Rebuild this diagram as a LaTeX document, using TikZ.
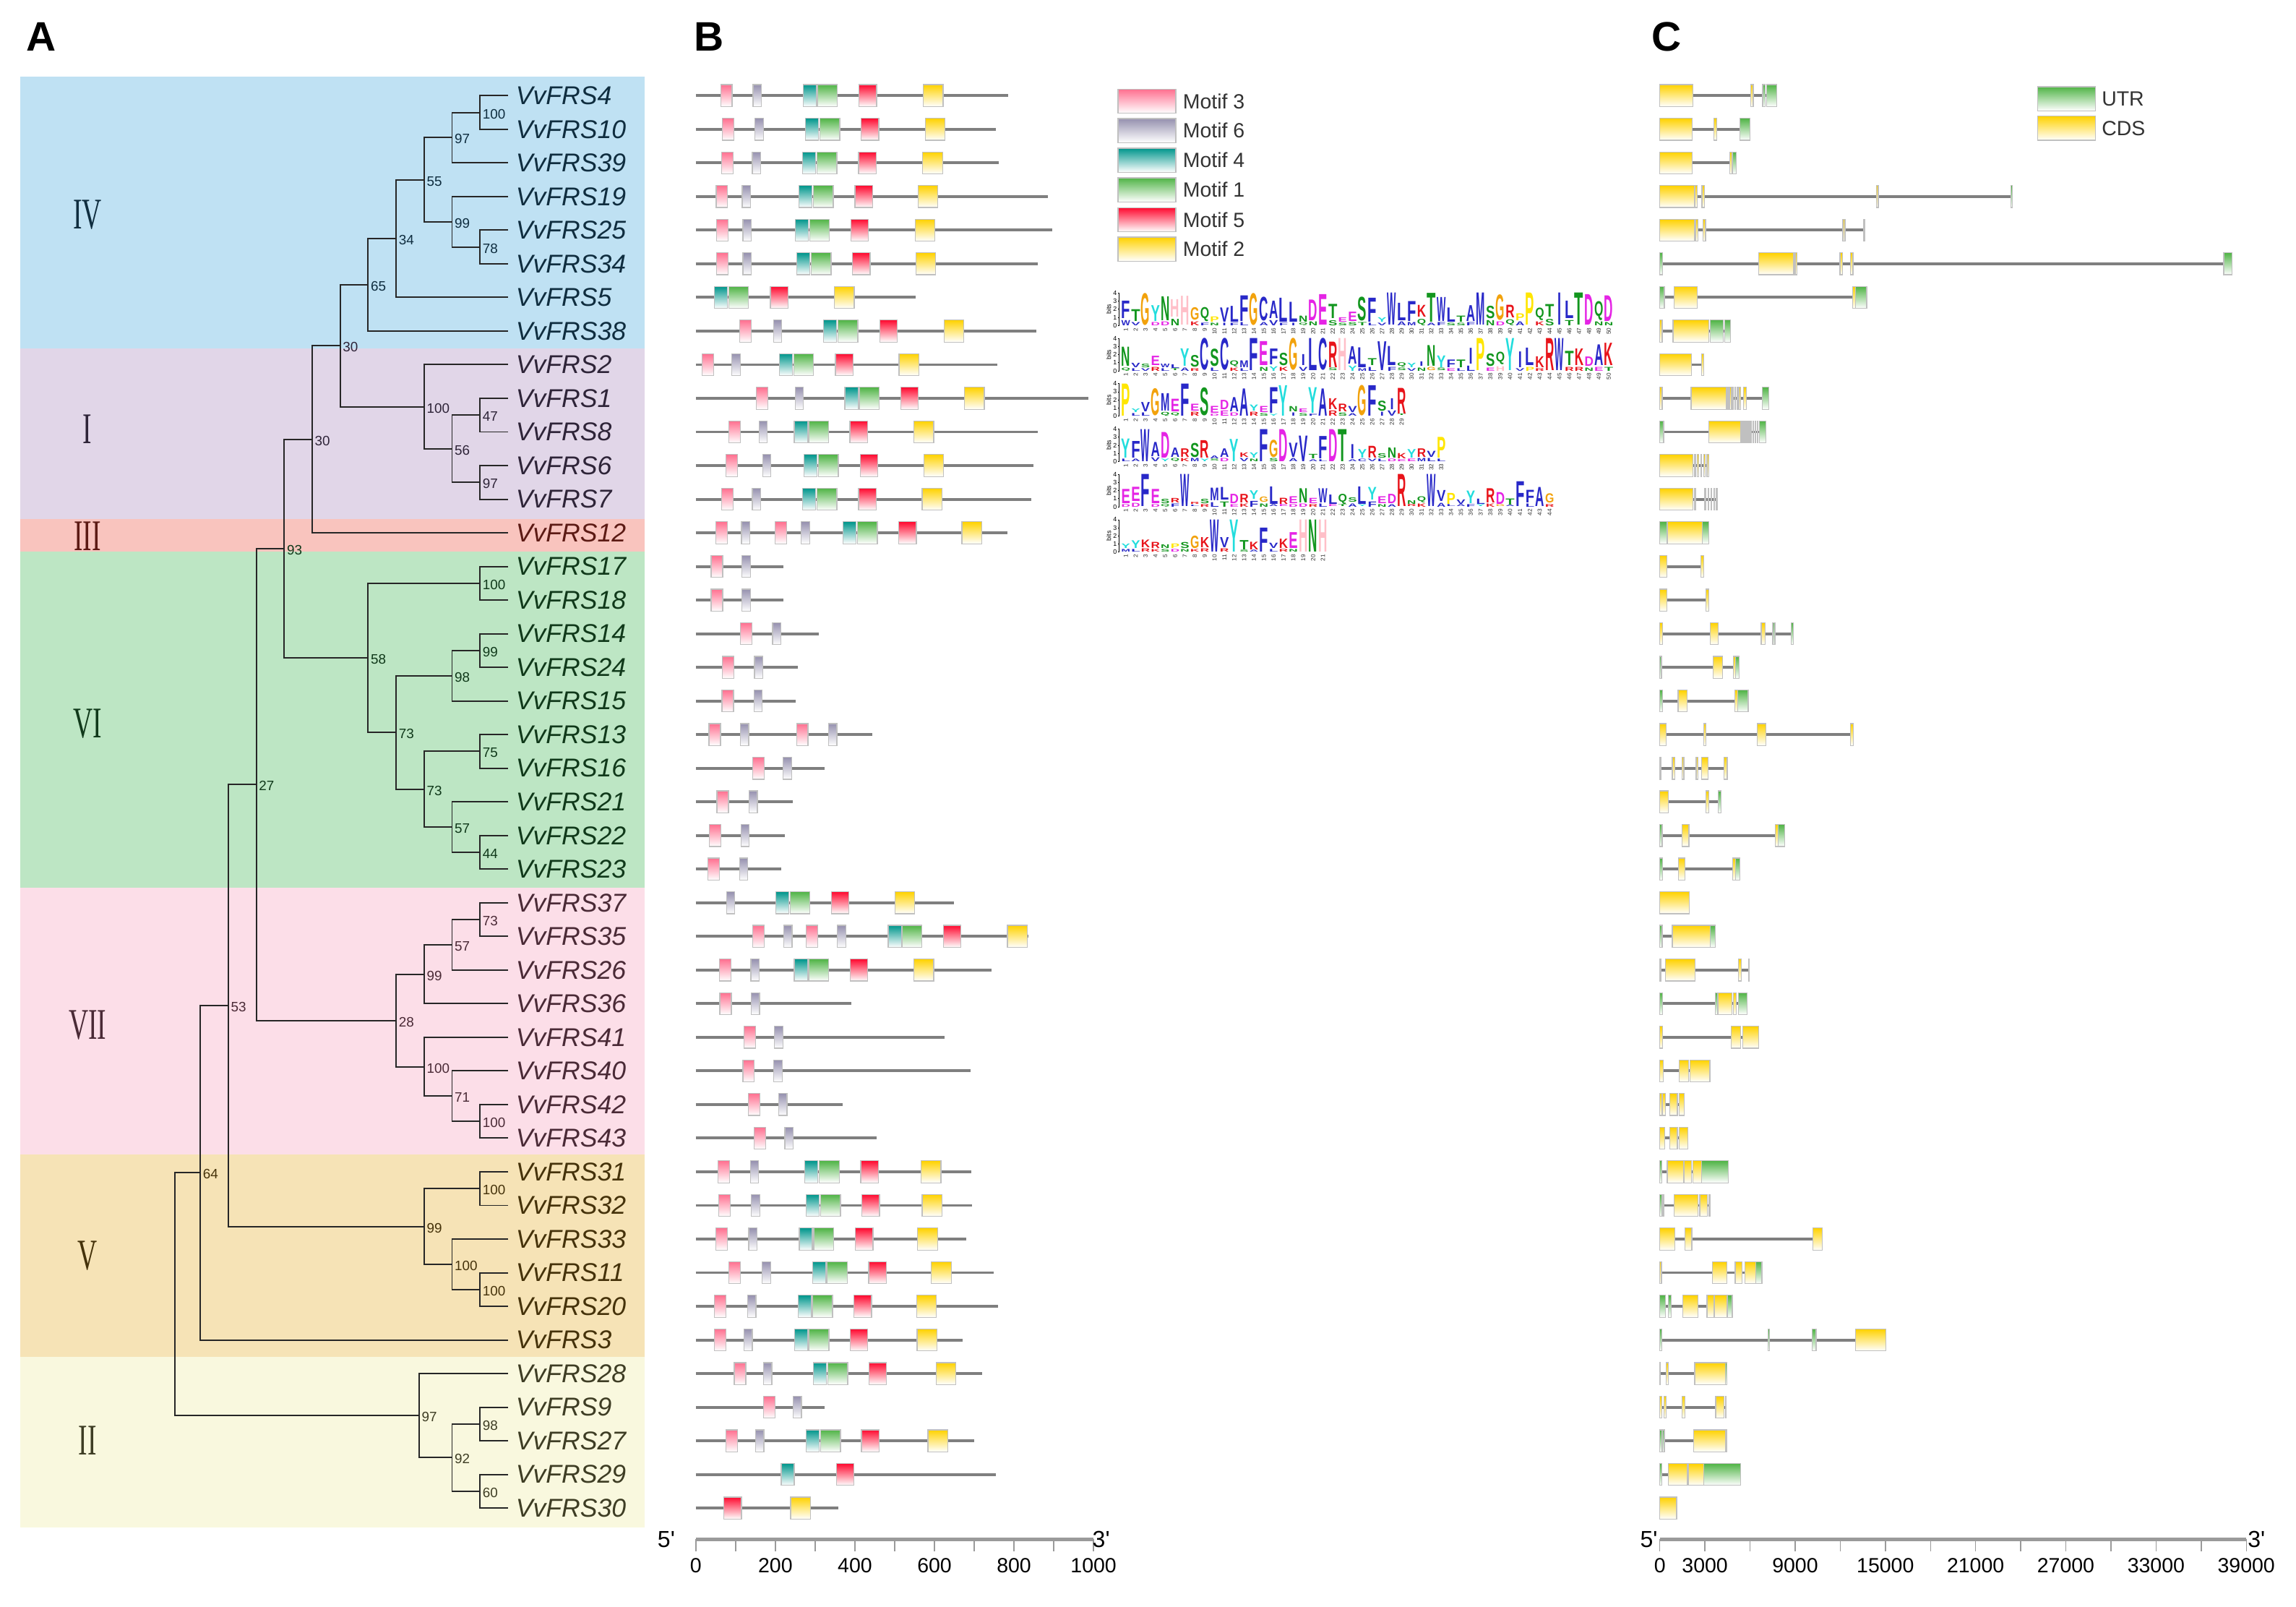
\documentclass[tikz,border=0pt]{standalone}
\usepackage{fontspec}
\setmainfont{Liberation Sans}
\newfontfamily\romanf{Liberation Serif}
\usepackage{graphicx}
\pgfmathdeclarefunction{ry}{1}{\pgfmathparse{65.3+(#1-1)*22.96}}
% band colours
\definecolor{bgIV}{HTML}{BFE1F3}
\definecolor{bgI}{HTML}{E1D6E8}
\definecolor{bgIII}{HTML}{F9C4BE}
\definecolor{bgVI}{HTML}{BDE6C4}
\definecolor{bgVII}{HTML}{FCDEE8}
\definecolor{bgV}{HTML}{F6E3B6}
\definecolor{bgII}{HTML}{F9F8DE}
% clade text colours
\definecolor{tIV}{HTML}{0F2D3F}
\definecolor{tI}{HTML}{2E2438}
\definecolor{tIII}{HTML}{5C1A14}
\definecolor{tVI}{HTML}{10391A}
\definecolor{tVII}{HTML}{4A2A36}
\definecolor{tV}{HTML}{45320A}
\definecolor{tII}{HTML}{3E3D24}
\definecolor{treeline}{HTML}{262626}
% motif colours
\definecolor{cP}{HTML}{FF7090}
\definecolor{cG}{HTML}{9691AF}
\definecolor{cT}{HTML}{00968C}
\definecolor{cN}{HTML}{50B446}
\definecolor{cR}{HTML}{FF0A30}
\definecolor{cY}{HTML}{FFD200}
\colorlet{cC}{cY}
\colorlet{cU}{cN}
\definecolor{boxline}{HTML}{C0C0C0}
\definecolor{lineg}{HTML}{7F7F7F}
\definecolor{axisg}{HTML}{9A9A9A}
\definecolor{legtxt}{HTML}{333333}
% amino-acid colours
\definecolor{aablue}{HTML}{2828C8}
\definecolor{aagreen}{HTML}{12961E}
\definecolor{aamag}{HTML}{E524E5}
\definecolor{aared}{HTML}{E8131A}
\colorlet{aaA}{aablue}\colorlet{aaC}{aablue}\colorlet{aaF}{aablue}\colorlet{aaI}{aablue}
\colorlet{aaL}{aablue}\colorlet{aaV}{aablue}\colorlet{aaW}{aablue}\colorlet{aaM}{aablue}
\colorlet{aaN}{aagreen}\colorlet{aaQ}{aagreen}\colorlet{aaS}{aagreen}\colorlet{aaT}{aagreen}
\colorlet{aaD}{aamag}\colorlet{aaE}{aamag}
\colorlet{aaK}{aared}\colorlet{aaR}{aared}
\definecolor{aaH}{HTML}{FFBFC8}
\definecolor{aaG}{HTML}{F2A20C}
\definecolor{aaP}{HTML}{FFE600}
\definecolor{aaY}{HTML}{22DDDD}
% motif widths (aa)
\def\wP{29}\def\wG{21}\def\wT{33}\def\wN{50}\def\wR{44}\def\wY{50}
\tikzset{
 tree/.style={draw=treeline, line width=0.55pt},
 gl/.style={anchor=west, inner xsep=0.1cm, inner ysep=0pt, font=\fontsize{10}{12}\selectfont\itshape},
 bs/.style={anchor=west, inner sep=0pt, xshift=0.03cm, yshift=-0.02cm, font=\fontsize{5.3}{6}\selectfont},
 romanlab/.style={inner sep=0pt, font=\romanf\fontsize{17}{17}\selectfont},
 box/.style={draw=boxline, line width=0.35pt, bottom color=white},
 pline/.style={draw=lineg, line width=1.1pt},
 axisl/.style={draw=axisg, line width=1.2pt},
 tickl/.style={draw=axisg, line width=0.4pt},
 ticklab/.style={font=\fontsize{8}{9}\selectfont, inner sep=0pt},
 endlab/.style={font=\fontsize{9}{10}\selectfont, inner sep=0pt},
 legtext/.style={anchor=west, inner sep=0pt, font=\fontsize{8}{9}\selectfont, text=legtxt},
 panel/.style={font=\fontsize{16}{18}\selectfont\bfseries, inner sep=0pt},
 lt/.style={inner sep=0pt, outer sep=0pt, anchor=south, font=\bfseries},
 numt/.style={rotate=90, anchor=east, inner sep=0pt, font=\fontsize{2.3}{2.5}\selectfont, text=black!80},
 tinyt/.style={inner sep=0pt, font=\fontsize{2.5}{3}\selectfont},
 logoaxis/.style={draw=black, line width=0.2pt},
}
% protein row: row, length, list of type/start
\newcommand\protrow[3]{%
 \pgfmathsetmacro\yy{ry(#1)}%
 \draw[pline] (475.2,\yy) -- ({475.2+#2*0.2716},\yy);
 \foreach \mt/\ms in {#3} {\shade[box, top color=c\mt] ({475.2+\ms*0.2716},\yy-7.5) rectangle ({475.2+(\ms+\csname w\mt\endcsname)*0.2716},\yy+7.5);}
}
% gene row: row, end, list of type/x1/x2
\newcommand\generow[3]{%
 \pgfmathsetmacro\yy{ry(#1)}%
 \draw[pline] (1133.5,\yy) -- (#2,\yy);
 \foreach \mt/\xa/\xb in {#3} {\shade[box, top color=c\mt] (\xa,\yy-7.5) rectangle (\xb,\yy+7.5);}
}
% sequence logo: name, baseline y, list top/h/bottom/h  (5.55 px per bit)
\newcommand\drawlogo[3]{%
 \draw[logoaxis] (764.3,#2) -- (764.3,#2-22.2);
 \foreach \k in {0,...,4} {\draw[logoaxis] (763.3,#2-\k*5.55) -- (764.3,#2-\k*5.55);
   \node[tinyt, anchor=east] (#1-ax\k) at (763,#2-\k*5.55) {\k};}
 \node[tinyt, rotate=90] (#1-bits) at (757.2,#2-11.1) {bits};
 \foreach \LA/\HA/\LB/\HB [count=\ii] in {#3} {%
   \pgfmathsetmacro\xc{765.5+(\ii-0.5)*6.73}%
   \pgfmathsetmacro\hacm{max(\HA*5.55-0.3,1.0)*0.02}%
   \pgfmathsetmacro\hbcm{max(\HB*5.55*0.8,1.0)*0.02}%
   \pgfmathsetmacro\ybase{#2-\HB*5.55-0.2}%
   \edef\wa{\if I\LA 0.05cm\else 0.122cm\fi}%
   \edef\wb{\if I\LB 0.05cm\else 0.122cm\fi}%
   \ifdim\HB pt>0pt \node[lt, text=aa\LB] (#1-\ii-b) at (\xc,#2) {\resizebox*{\wb}{\hbcm cm}{\LB}};\fi
   \node[lt, text=aa\LA] (#1-\ii-a) at (\xc,\ybase) {\resizebox*{\wa}{\hacm cm}{\LA}};
   \node[numt] (#1-\ii-n) at (\xc,#2+1.3) {\ii};
 }
}
\begin{document}
\begin{tikzpicture}[x=0.02cm,y=-0.02cm]
\useasboundingbox (0,0) rectangle (1568,1097);
\fill[white] (0,0) rectangle (1568,1097);
% ---------------- Panel A ----------------
\fill[bgIV] (14,52.3) rectangle (440,238);
\fill[bgI] (14,238) rectangle (440,354.2);
\fill[bgIII] (14,354.2) rectangle (440,376.7);
\fill[bgVI] (14,376.7) rectangle (440,606);
\fill[bgVII] (14,606) rectangle (440,788.4);
\fill[bgV] (14,788.4) rectangle (440,926.4);
\fill[bgII] (14,926.4) rectangle (440,1043.1);
\node[panel] (pA) at (28,25) {A};
\node[panel] (pB) at (484,25) {B};
\node[panel] (pC) at (1138,25) {C};
\node[romanlab, text=tIV] (rIV) at (59.8,146.6) {\scalebox{0.62}[1]{IV}};
\node[romanlab, text=tI] (rI) at (59.8,293.2) {\scalebox{0.62}[1]{I}};
\node[romanlab, text=tIII] (rIII) at (59.8,366) {\scalebox{0.62}[1]{III}};
\node[romanlab, text=tVI] (rVI) at (59.8,494) {\scalebox{0.62}[1]{VI}};
\node[romanlab, text=tVII] (rVII) at (59.8,700) {\scalebox{0.62}[1]{VII}};
\node[romanlab, text=tV] (rV) at (59.8,857.3) {\scalebox{0.62}[1]{V}};
\node[romanlab, text=tII] (rII) at (59.8,983.7) {\scalebox{0.62}[1]{II}};
\foreach \n/\r/\c in {4/1/IV,10/2/IV,39/3/IV,19/4/IV,25/5/IV,34/6/IV,5/7/IV,38/8/IV,2/9/I,1/10/I,8/11/I,6/12/I,7/13/I,12/14/III,17/15/VI,18/16/VI,14/17/VI,24/18/VI,15/19/VI,13/20/VI,16/21/VI,21/22/VI,22/23/VI,23/24/VI,37/25/VII,35/26/VII,26/27/VII,36/28/VII,41/29/VII,40/30/VII,42/31/VII,43/32/VII,31/33/V,32/34/V,33/35/V,11/36/V,20/37/V,3/38/V,28/39/II,9/40/II,27/41/II,29/42/II,30/43/II}
  \node[gl, text=t\c] (g\n) at (347,{ry(\r)}) {VvFRS\n};
\coordinate (Na) at (327.8,{ry(1.5)});
\coordinate (Nb) at (308.7,{ry(2.25)});
\coordinate (Nc) at (327.8,{ry(5.5)});
\coordinate (Nd) at (308.7,{ry(4.75)});
\coordinate (Ne) at (289.6,{ry(3.5)});
\coordinate (Nf) at (270.5,{ry(5.25)});
\coordinate (Ng) at (251.4,{ry(6.625)});
\coordinate (Nh) at (327.8,{ry(10.5)});
\coordinate (Ni) at (327.8,{ry(12.5)});
\coordinate (Nj) at (308.7,{ry(11.5)});
\coordinate (Nk) at (289.6,{ry(10.25)});
\coordinate (Nl) at (232.3,{ry(8.4375)});
\coordinate (Nm) at (213.2,{ry(11.21875)});
\coordinate (Nn) at (327.8,{ry(15.5)});
\coordinate (No) at (327.8,{ry(17.5)});
\coordinate (Np) at (308.7,{ry(18.25)});
\coordinate (Nq) at (327.8,{ry(20.5)});
\coordinate (Nr) at (327.8,{ry(23.5)});
\coordinate (Ns) at (308.7,{ry(22.75)});
\coordinate (Nt) at (289.6,{ry(21.625)});
\coordinate (Nu) at (270.5,{ry(19.9375)});
\coordinate (Nv) at (251.4,{ry(17.71875)});
\coordinate (Nw) at (194.1,{ry(14.46875)});
\coordinate (Nx1) at (327.8,{ry(25.5)});
\coordinate (Nx2) at (308.7,{ry(26.25)});
\coordinate (Nx3) at (289.6,{ry(27.125)});
\coordinate (Nx4) at (327.8,{ry(31.5)});
\coordinate (Nx5) at (308.7,{ry(30.75)});
\coordinate (Nx6) at (289.6,{ry(29.875)});
\coordinate (Nx7) at (270.5,{ry(28.5)});
\coordinate (Ny1) at (175.0,{ry(21.484375)});
\coordinate (Nz1) at (327.8,{ry(33.5)});
\coordinate (Nz2) at (327.8,{ry(36.5)});
\coordinate (Nz3) at (308.7,{ry(35.75)});
\coordinate (Nz4) at (289.6,{ry(34.625)});
\coordinate (Ny2) at (155.9,{ry(28.0546875)});
\coordinate (Ny3) at (136.8,{ry(33.02734375)});
\coordinate (Nq1) at (327.8,{ry(40.5)});
\coordinate (Nq2) at (327.8,{ry(42.5)});
\coordinate (Nq3) at (308.7,{ry(41.5)});
\coordinate (Nq4) at (286.2,{ry(40.25)});
\coordinate (Nroot) at (119.6,{ry(36.638671875)});
\draw[tree] (g4.west) -| (Na) |- (g10.west);
\draw[tree] (Na) -| (Nb) |- (g39.west);
\draw[tree] (g25.west) -| (Nc) |- (g34.west);
\draw[tree] (g19.west) -| (Nd) |- (Nc);
\draw[tree] (Nb) -| (Ne) |- (Nd);
\draw[tree] (Ne) -| (Nf) |- (g5.west);
\draw[tree] (Nf) -| (Ng) |- (g38.west);
\draw[tree] (g1.west) -| (Nh) |- (g8.west);
\draw[tree] (g6.west) -| (Ni) |- (g7.west);
\draw[tree] (Nh) -| (Nj) |- (Ni);
\draw[tree] (g2.west) -| (Nk) |- (Nj);
\draw[tree] (Ng) -| (Nl) |- (Nk);
\draw[tree] (Nl) -| (Nm) |- (g12.west);
\draw[tree] (g17.west) -| (Nn) |- (g18.west);
\draw[tree] (g14.west) -| (No) |- (g24.west);
\draw[tree] (No) -| (Np) |- (g15.west);
\draw[tree] (g13.west) -| (Nq) |- (g16.west);
\draw[tree] (g22.west) -| (Nr) |- (g23.west);
\draw[tree] (g21.west) -| (Ns) |- (Nr);
\draw[tree] (Nq) -| (Nt) |- (Ns);
\draw[tree] (Np) -| (Nu) |- (Nt);
\draw[tree] (Nn) -| (Nv) |- (Nu);
\draw[tree] (Nm) -| (Nw) |- (Nv);
\draw[tree] (g37.west) -| (Nx1) |- (g35.west);
\draw[tree] (Nx1) -| (Nx2) |- (g26.west);
\draw[tree] (Nx2) -| (Nx3) |- (g36.west);
\draw[tree] (g42.west) -| (Nx4) |- (g43.west);
\draw[tree] (g40.west) -| (Nx5) |- (Nx4);
\draw[tree] (g41.west) -| (Nx6) |- (Nx5);
\draw[tree] (Nx3) -| (Nx7) |- (Nx6);
\draw[tree] (Nw) -| (Ny1) |- (Nx7);
\draw[tree] (g31.west) -| (Nz1) |- (g32.west);
\draw[tree] (g11.west) -| (Nz2) |- (g20.west);
\draw[tree] (g33.west) -| (Nz3) |- (Nz2);
\draw[tree] (Nz1) -| (Nz4) |- (Nz3);
\draw[tree] (Ny1) -| (Ny2) |- (Nz4);
\draw[tree] (Ny2) -| (Ny3) |- (g3.west);
\draw[tree] (g9.west) -| (Nq1) |- (g27.west);
\draw[tree] (g29.west) -| (Nq2) |- (g30.west);
\draw[tree] (Nq1) -| (Nq3) |- (Nq2);
\draw[tree] (g28.west) -| (Nq4) |- (Nq3);
\draw[tree] (Ny3) -| (Nroot) |- (Nq4);
\foreach \nd/\v/\c in {Na/100/IV,Nb/97/IV,Nc/78/IV,Nd/99/IV,Ne/55/IV,Nf/34/IV,Ng/65/IV,Nh/47/I,Ni/97/I,Nj/56/I,Nk/100/I,Nl/30/I,Nm/30/I,Nn/100/VI,No/99/VI,Np/98/VI,Nq/75/VI,Nr/44/VI,Ns/57/VI,Nt/73/VI,Nu/73/VI,Nv/58/VI,Nw/93/VI,Nx1/73/VII,Nx2/57/VII,Nx3/99/VII,Nx4/100/VII,Nx5/71/VII,Nx6/100/VII,Nx7/28/VII,Ny1/27/VI,Nz1/100/V,Nz2/100/V,Nz3/100/V,Nz4/99/V,Ny2/53/VII,Ny3/64/V,Nq1/98/II,Nq2/60/II,Nq3/92/II,Nq4/97/II}
  \node[bs, text=t\c] (\nd-bs) at (\nd) {\v};
% ---------------- Panel B ----------------
\protrow{1}{785.7}{P/62.3,G/144,T/270.6,N/306,R/410.4,Y/571.8}
\protrow{2}{753.6}{P/67.1,G/149,T/275.4,N/311.8,R/416,Y/576.7}
\protrow{3}{761.3}{P/64.3,G/142,T/268.5,N/304.8,R/409,Y/570.4}
\protrow{4}{885}{P/51,G/116.8,T/259.4,N/295.7,R/399.9,Y/558.5}
\protrow{5}{896}{P/52.5,G/118.2,T/250.3,N/286,R/390,Y/551.5}
\protrow{6}{860.5}{P/52.5,G/118.2,T/253.8,N/290.1,R/394.3,Y/553}
\protrow{7}{552.3}{T/46.2,N/82.5,R/187.4,Y/348.2}
\protrow{8}{857}{P/109.8,G/195,T/320.9,N/357.2,R/462.8,Y/624.2}
\protrow{9}{757.8}{P/15.4,G/90.9,T/210.4,N/246.1,R/350.9,Y/511}
\protrow{10}{986.3}{P/151.7,G/249.6,T/374.7,N/411,R/515.2,Y/675.3}
\protrow{11}{859.1}{P/83.2,G/158.7,T/247.5,N/283.8,R/387.3,Y/548}
\protrow{12}{849.3}{P/76.2,G/167.8,T/272,N/308.3,R/413.2,Y/573.2}
\protrow{13}{843}{P/64.3,G/142,T/268.5,N/304.8,R/409,Y/569}
\protrow{14}{783.6}{P/49.7,G/114.7,P/199.3,G/265,T/369.8,N/406.2,R/510.3,Y/669}
\protrow{15}{220.2}{P/38.5,G/116}
\protrow{16}{220.2}{P/38.5,G/116}
\protrow{17}{309}{P/112.6,G/193}
\protrow{18}{257.3}{P/66.4,G/147.5}
\protrow{19}{250.3}{P/65.7,G/146.1}
\protrow{20}{443.2}{P/32.9,G/111.9,P/253.1,G/333.5}
\protrow{21}{323}{P/142.6,G/219.5}
\protrow{22}{244}{P/53.2,G/133.6}
\protrow{23}{223}{P/34.3,G/113.3}
\protrow{24}{214}{P/30.8,G/109.8}
\protrow{25}{649.4}{G/77,T/200.7,N/237,R/341.2,Y/500.5}
\protrow{26}{836}{P/142.6,G/220.9,P/277.5,G/355.8,T/483.7,N/518.7,R/622.9,Y/783.6}
\protrow{27}{743.8}{P/59.5,G/138.4,T/247.5,N/283.8,R/388,Y/548}
\protrow{28}{390.1}{P/60.2,G/139.1}
\protrow{29}{625}{P/121,G/197.9}
\protrow{30}{691.4}{P/118.2,G/195.8}
\protrow{31}{368.4}{P/132.2,G/208.4}
\protrow{32}{454.4}{P/146.8,G/223.7}
\protrow{33}{692.8}{P/55.3,G/137,T/274,N/310.4,R/414.5,Y/566.2}
\protrow{34}{694.1}{P/58,G/139.8,T/277.5,N/313.9,R/418,Y/569}
\protrow{35}{680.1}{P/49.7,G/132.9,T/260,N/296.4,R/401.3,Y/557.8}
\protrow{36}{748.7}{P/83.2,G/167.1,T/294.3,N/330.7,R/434.8,Y/592.1}
\protrow{37}{760.6}{P/46.2,G/130,T/258,N/293.6,R/397.8,Y/555}
\protrow{38}{670.4}{P/46.2,G/121,T/248.9,N/284.5,R/388,Y/556.4}
\protrow{39}{720.7}{P/96.5,G/169.9,T/295.7,N/332,R/435.5,Y/604}
\protrow{40}{324.4}{P/169.9,G/244.7}
\protrow{41}{700.4}{P/76.2,G/150.3,T/277.5,N/313.9,R/416.6,Y/583.7}
\protrow{42}{754.3}{T/214.6,R/353.7}
\protrow{43}{358.6}{R/70.6,Y/238.4}
% legend B
\foreach \mt/\lab/\yl in {P/3/69.1,G/6/89.2,T/4/109.4,N/1/129.6,R/5/150,Y/2/170.1} {
  \shade[box, top color=c\mt] (763.5,\yl-8.2) rectangle (803,\yl+8.2);
  \node[legtext] (leg\lab) at (807.5,\yl) {Motif \lab};
}
% logos
\drawlogo{LA}{222.2}{F/2.2/W/0.8,T/1.5/V/0.5,G/4/x/0,Y/2/D/0.5,N/3/D/0.6,H/2.2/N/1,H/3.6/x/0,G/1.6/K/0.6,Q/1.8/F/0.4,P/0.7/N/0.4,V/1.8/I/0.4,L/2/F/0.4,F/3.2/L/0.5,G/4/x/0,C/3/A/0.5,A/2.2/V/0.8,L/3/F/0.4,L/2.5/I/0.4,N/0.8/Q/0.4,D/2.6/N/0.6,E/3.8/x/0,T/1.8/S/0.8,E/0.6/S/0.4,E/1.2/S/0.5,S/3/T/0.5,F/3/L/0.4,Y/0.6/V/0.4,W/4/x/0,L/2.2/A/0.6,F/2.5/M/0.5,K/1.5/Q/1,T/3.6/A/0.4,W/3/F/0.5,L/1.8/S/0.4,T/0.8/S/0.4,A/2/F/0.5,M/4/x/0,S/1.6/N/0.8,G/3.2/D/0.6,R/1.6/Q/0.9,P/0.9/A/0.6,P/4/x/0,Q/1.6/K/0.6,T/1.6/S/1,I/4/x/0,L/2.2/T/0.8,T/4/x/0,D/3.8/x/0,Q/2.4/N/0.6,D/3.2/N/0.5}
\drawlogo{LB}{253.2}{N/2.4/Q/0.5,V/0.6/L/0.4,S/0.5/V/0.4,E/1.2/R/0.6,W/0.5/L/0.4,L/0.5/T/0.3,Y/2.2/A/0.5,S/1.5/R/0.4,C/4/x/0,S/2.2/L/0.5,C/4/x/0,Q/0.8/K/0.5,M/0.9/L/0.4,F/4/x/0,E/3/N/0.6,F/2/Y/0.7,S/1.6/K/0.6,G/4/x/0,I/1.4/V/0.6,L/4/x/0,C/4/x/0,R/3.2/S/0.4,H/4/x/0,A/2.2/Y/0.8,L/2.5/M/0.4,T/0.9/L/0.6,V/3.6/x/0,L/2.4/F/0.6,Q/0.6/S/0.4,Y/0.6/V/0.4,I/0.6/N/0.5,N/2.6/G/0.5,Y/1.5/S/0.4,F/1/E/0.4,T/1/L/0.4,I/2/L/0.8,P/4/x/0,S/1.6/E/0.5,Q/1.6/H/0.7,Y/4/x/0,I/2/V/0.4,L/2.2/P/0.6,K/1.4/R/0.4,R/4/x/0,W/4/x/0,T/1.8/R/0.6,K/2.1/R/0.6,D/1.2/N/0.5,A/2.6/E/0.6,K/2.8/T/0.6}
\drawlogo{LC}{284.1}{P/4/x/0,Y/0.5/L/0.4,V/1.2/L/0.5,G/3.4/x/0,M/2.2/Q/0.6,E/1.6/Q/0.5,F/4/x/0,E/0.9/R/0.6,S/3.5/x/0,E/0.9/D/0.3,D/1.2/E/0.8,A/1.8/D/0.5,A/3.4/x/0,Y/0.8/R/0.6,E/0.8/S/0.4,F/3.2/Y/0.3,Y/3.8/x/0,N/0.7/I/0.5,E/0.5/S/0.4,Y/3.2/F/0.3,A/3.4/x/0,K/1.4/R/0.8,R/1/S/0.5,V/0.8/A/0.4,G/3.8/x/0,F/3.8/x/0,S/1.3/I/0.6,I/1.4/V/0.8,R/3.2/T/0.2}
\drawlogo{LD}{315.1}{Y/2.4/L/0.4,F/2.1/A/0.4,W/4/x/0,A/1.8/V/0.6,D/3.2/Y/0.4,A/1.2/Q/0.5,R/1.1/K/0.5,S/1.8/M/0.5,R/2.2/Y/0.4,A/0.4/S/0.3,A/1.1/D/0.5,Y/2.8/x/0,K/0.6/V/0.5,Y/0.7/N/0.4,F/4/x/0,G/2.2/S/0.5,D/4/x/0,V/1.8/A/0.5,V/3.2/x/0,T/0.6/A/0.3,F/2.8/L/0.3,D/4/x/0,T/4/x/0,I/1.8/A/0.3,Y/1.1/C/0.4,R/1.5/V/0.4,S/0.6/L/0.4,N/1.3/D/0.4,K/0.7/E/0.3,Y/1.1/E/0.4,R/1.1/M/0.5,V/0.8/L/0.5,P/2.6/L/0.4}
\drawlogo{LE}{346.0}{E/1.8/D/0.4,E/1.8/D/0.6,F/4/x/0,E/1.8/D/0.4,S/0.6/Q/0.4,R/0.6/F/0.5,W/4/x/0,R/0.3/L/0.2,S/0.6/R/0.4,M/1.6/L/0.7,L/1.6/T/0.8,D/1.2/E/0.4,R/1.1/K/0.5,Y/1.1/F/0.9,G/0.7/N/0.5,L/2.2/A/0.3,R/0.8/E/0.3,E/0.9/D/0.4,N/1.8/D/0.5,E/0.7/R/0.4,W/1.8/L/0.5,L/1.2/E/0.3,Q/1.3/T/0.3,S/0.6/A/0.5,L/2.2/Y/0.3,Y/1.6/F/0.8,E/0.9/N/0.4,D/1.2/A/0.4,R/4/x/0,N/0.5/R/0.3,Q/0.8/K/0.5,W/4/x/0,V/1.4/A/0.6,P/1.4/L/0.3,V/0.6/A/0.3,Y/1.6/F/0.4,L/0.7/Y/0.3,R/1.8/K/0.5,D/1.5/G/0.3,T/0.8/A/0.2,F/3.1/x/0,F/1.6/L/0.5,A/2.4/x/0,G/1.2/R/0.4}
\drawlogo{LF}{377.0}{Y/0.6/M/0.4,Y/1/L/0.4,K/1/R/0.5,R/0.8/K/0.4,N/0.5/S/0.4,P/0.6/D/0.4,S/0.8/N/0.4,G/1.6/K/0.4,K/1.3/R/0.5,W/4/x/0,V/1.3/R/0.5,Y/4/x/0,T/1.2/S/0.3,K/1/A/0.3,F/3/x/0,V/0.7/L/0.4,K/1.2/R/0.4,E/2/N/0.4,H/4/x/0,N/4/x/0,H/4/x/0}
% axis B
\draw[axisl] (475.2,1051) -- (746.8,1051);
\foreach \k in {0,...,10} \draw[tickl] ({475.2+\k*27.16},1051) -- ++(0,8);
\foreach \v [count=\k from 0] in {0,200,...,1000} \node[ticklab] (bt\v) at ({475.2+\k*54.32},1069) {\v};
\node[endlab] (b5) at (455,1051) {5\textquotesingle};
\node[endlab] (b3) at (752,1051) {3\textquotesingle};
% ---------------- Panel C ----------------
\generow{1}{1213.2}{C/1133.5/1156.3,C/1195.6/1197.3,U/1203.8/1205.6,U/1206.4/1213.2}
\generow{2}{1195}{C/1133.5/1155.7,C/1170.5/1172.5,U/1188.2/1195}
\generow{3}{1185.9}{C/1133.5/1155.7,C/1181.4/1183,U/1183/1185.9}
\generow{4}{1374.2}{C/1133.5/1157.1,C/1157.7/1158.9,C/1162.3/1164,C/1281.3/1282.7,U/1373.3/1374.2}
\generow{5}{1273.3}{C/1133.5/1157.4,C/1158/1159.4,C/1163.1/1164.8,C/1258.5/1260,U/1272.5/1273.3}
\generow{6}{1524.3}{U/1133.5/1135.5,C/1201/1225,C/1226/1227.2,C/1256.5/1258.2,C/1263.7/1265.4,U/1518.6/1524.3}
\generow{7}{1274.8}{U/1133.5/1136.6,C/1143.2/1158.9,C/1265.1/1267.1,U/1267.1/1274.8}
\generow{8}{1181.6}{C/1133.5/1135.2,C/1142.6/1166.8,U/1168/1176.8,U/1178/1181.6}
\generow{9}{1163.7}{C/1133.5/1155.1,C/1162/1163.7}
\generow{10}{1208.1}{C/1133.5/1135.2,C/1154.9/1179.1,C/1179.8/1180.6,C/1181.4/1182.2,C/1183/1183.8,C/1184.6/1185.4,C/1186.2/1187,C/1187.8/1188.6,C/1190.8/1192.6,U/1203.6/1208.1}
\generow{11}{1205.8}{U/1133.5/1136.1,C/1166.8/1188.8,C/1189.4/1190.2,C/1190.9/1191.7,C/1192.4/1193.2,C/1193.9/1194.7,C/1195.4/1196.2,C/1196.9/1197.7,C/1198.4/1199.2,C/1199.9/1200.7,U/1201.5/1205.8}
\generow{12}{1166.8}{C/1133.5/1156.3,C/1157/1157.8,C/1159.2/1160,C/1161.4/1162.2,C/1163.6/1164.4,C/1165.8/1166.8}
\generow{13}{1173}{C/1133.5/1156.3,C/1157/1157.8,C/1164.3/1165.1,C/1166.3/1167.1,C/1168.3/1169.1,C/1170.3/1171.1,C/1172.2/1173}
\generow{14}{1166.8}{U/1133.5/1138.6,C/1138.6/1162.5,U/1162.5/1166.8}
\generow{15}{1163.4}{C/1133.5/1138.3,C/1161.4/1163.4}
\generow{16}{1167.1}{C/1133.5/1138.3,C/1165.1/1167.1}
\generow{17}{1224.9}{C/1133.5/1135.5,C/1168/1173.4,C/1202.7/1205.3,U/1210.7/1212.1,U/1223.2/1224.9}
\generow{18}{1187.6}{U/1133.5/1134.6,C/1170/1176.2,C/1183.6/1185.3,U/1185.3/1187.6}
\generow{19}{1193.9}{U/1133.5/1135.5,C/1146/1152,C/1184.8/1186.8,U/1186.8/1193.9}
\generow{20}{1265.7}{C/1133.5/1138,C/1163.7/1165.1,C/1200.1/1205.8,C/1263.7/1265.7}
\generow{21}{1179.6}{C/1133.5/1134.2,C/1142/1143.8,C/1148.9/1150,C/1158.3/1159.7,C/1162/1166.5,C/1177.4/1179.6}
\generow{22}{1175.4}{C/1133.5/1139.5,C/1165.1/1166.8,U/1173.4/1175.4}
\generow{23}{1218.7}{U/1133.5/1135.2,C/1148.9/1153.4,C/1212.4/1214.4,U/1214.4/1218.7}
\generow{24}{1188.2}{U/1133.5/1135.5,C/1146.3/1150.6,C/1183.3/1185.3,U/1185.3/1188.2}
\generow{25}{1153.7}{C/1133.5/1153.7}
\generow{26}{1171.4}{U/1133.5/1135.2,C/1142/1168,U/1168/1171.4}
\generow{27}{1194.8}{C/1133.5/1134.2,C/1137.2/1157.7,C/1187.3/1189,C/1194/1194.8}
\generow{28}{1193.3}{U/1133.5/1135.5,U/1171.4/1173.1,C/1173.1/1182.8,C/1183.6/1185.6,U/1187.3/1193.3}
\generow{29}{1201}{C/1133.5/1135.5,C/1182.2/1188.8,C/1190.2/1201}
\generow{30}{1167.7}{C/1133.5/1135.8,C/1146.9/1153.2,C/1154.3/1167.7}
\generow{31}{1150.3}{C/1133.5/1135,C/1135.5/1137.5,C/1140.3/1145.5,C/1146.6/1150.3}
\generow{32}{1152.6}{C/1133.5/1137,C/1140.3/1145.5,C/1146.6/1152.6}
\generow{33}{1180.2}{U/1133.5/1135,C/1138.6/1149.7,C/1150.3/1155.1,C/1156/1162,U/1162/1180.2}
\generow{34}{1167.7}{U/1133.5/1135,U/1135.2/1136.1,C/1143.2/1159.4,C/1160.8/1166,C/1166.8/1167.7}
\generow{35}{1244.6}{C/1133.5/1143.8,C/1150.6/1155.4,C/1238/1244.6}
\generow{36}{1203.3}{C/1133.5/1134.6,C/1169.4/1179.4,C/1185/1189.6,C/1191.6/1199,U/1199/1203.3}
\generow{37}{1183}{U/1133.5/1137.5,U/1139.5/1141.2,C/1149.2/1159.4,C/1165.7/1170.5,C/1171.1/1179.6,U/1179.6/1183}
\generow{38}{1287.9}{U/1133.5/1135,U/1207.3/1208.4,U/1237.7/1240.3,C/1267.1/1287.9}
\generow{39}{1179.4}{C/1133.5/1134,C/1137.8/1139.5,C/1157.4/1178.2,U/1178.2/1179.4}
\generow{40}{1179}{C/1133.5/1135,C/1136.4/1138,C/1148.9/1150.6,C/1171.7/1177.4,C/1178.4/1179}
\generow{41}{1179.1}{U/1133.5/1135,U/1135.2/1136.6,C/1156.6/1178.2,U/1178.2/1179.1}
\generow{42}{1188.8}{U/1133.5/1135,C/1139.2/1152,C/1152.9/1163.4,U/1163.4/1188.8}
\generow{43}{1145}{C/1133.5/1145}
% legend C
\shade[box, top color=cU] (1391.4,59.2) rectangle (1431,75.7);
\node[legtext] (legUTR) at (1435,67.5) {UTR};
\shade[box, top color=cC] (1391.4,79.2) rectangle (1431,95.8);
\node[legtext] (legCDS) at (1435,87.5) {CDS};
% axis C
\draw[axisl] (1133.5,1051) -- (1534,1051);
\foreach \k in {0,...,13} \draw[tickl] ({1133.5+\k*30.81},1051) -- ++(0,8);
\foreach \v/\k in {0/0,3000/1,9000/3,15000/5,21000/7,27000/9,33000/11,39000/13}
  \node[ticklab] (ct\v) at ({1133.5+\k*30.81},1069) {\v};
\node[endlab] (c5) at (1126,1051) {5\textquotesingle};
\node[endlab] (c3) at (1541,1051) {3\textquotesingle};
\end{tikzpicture}
\end{document}
